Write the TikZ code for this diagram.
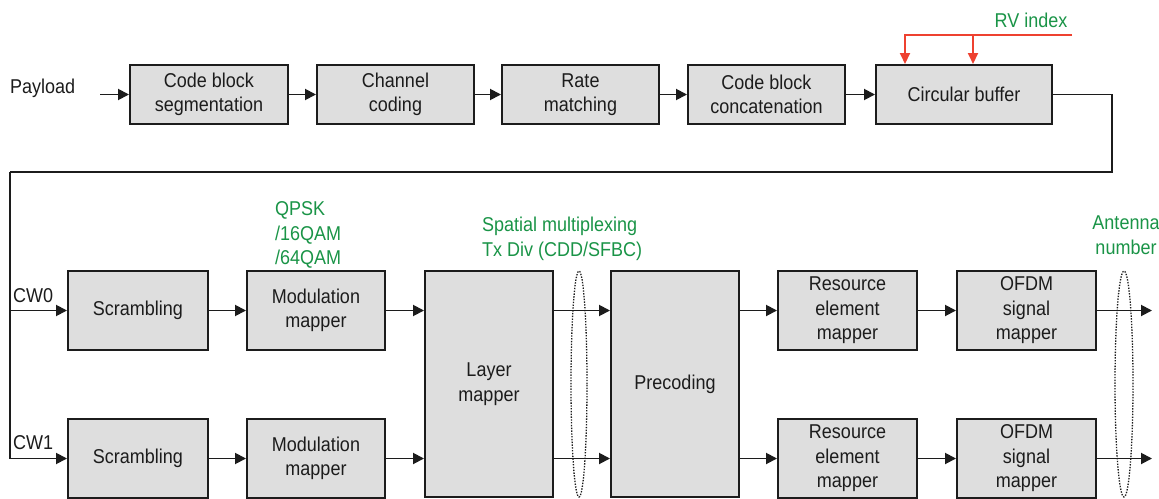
\documentclass[tikz,border=0pt]{standalone}
\usepackage{fontspec}
\setmainfont{Liberation Sans}[FakeStretch=0.9]
\usetikzlibrary{arrows.meta,positioning,shapes.geometric,calc}
\definecolor{boxgray}{HTML}{DEDEDE}
\definecolor{inkgray}{HTML}{1C1C1C}
\definecolor{labgreen}{HTML}{1A9447}
\definecolor{rvred}{HTML}{EE4130}
\tikzset{
  blk/.style={draw=inkgray, fill=boxgray, line width=2pt, align=center, inner sep=2pt,
              minimum height=59pt, text=inkgray},
  rowblk/.style={blk, minimum height=79pt},
  tallblk/.style={blk, minimum width=128pt, minimum height=226pt},
  txt/.style={inner sep=0pt, text=inkgray},
  lab/.style={inner sep=0pt, text=labgreen, align=left},
  grp/.style={ellipse, draw=inkgray, dash pattern=on 1.4pt off 1.4pt, line width=1.3pt,
              minimum height=226pt, inner sep=0pt},
  arr/.style={-{Triangle[length=11pt,width=11pt]}, line width=1.9pt, draw=inkgray},
  line/.style={line width=1.9pt, draw=inkgray},
  redarr/.style={-{Triangle[length=11pt,width=10pt]}, line width=1.9pt, draw=rvred},
}
\begin{document}
\begin{tikzpicture}[x=1pt, y=-1pt, font=\fontsize{20}{24.5}\selectfont]
    \useasboundingbox (0,0) rectangle (1159,498);
    \node[txt, anchor=west] (payload) at (10,88) {Payload};
    \node[blk, minimum width=158pt] (seg) at (209,94.5) {Code block\\segmentation};
    \node[blk, minimum width=157pt] (chcod) at (395.5,94.5) {Channel\\coding};
    \node[blk, minimum width=157pt] (ratem) at (580.5,94.5) {Rate\\matching};
    \node[blk, minimum width=157pt] (concat) at (766.5,94.5) {Code block\\concatenation};
    \node[blk, minimum width=176pt] (cbuf) at (964,94.5) {Circular buffer};
    \node[lab] (rvlab) at (1031,20) {RV index};
    \coordinate (pin) at (100,94.5);
    \coordinate (rv) at (1072,35);
    \coordinate (turn) at (1112,172);
    \coordinate (split) at (10,172);
    \draw[arr] (pin) -- (seg);
    \draw[arr] (seg) -- (chcod);
    \draw[arr] (chcod) -- (ratem);
    \draw[arr] (ratem) -- (concat);
    \draw[arr] (concat) -- (cbuf);
    \draw[redarr] (rv) -| ([xshift=-59pt]cbuf.north);
    \draw[redarr] ([xshift=9pt]cbuf.north |- rv) -- ([xshift=9pt]cbuf.north);
    \draw[line] (cbuf.east) -| (turn) -- (split);
    \node[txt, anchor=west] (cw0) at (13,296) {CW0};
    \node[txt, anchor=west] (cw1) at (13,443) {CW1};
    \node[lab, anchor=west] (modlab) at (275,235) {QPSK\\/16QAM\\/64QAM};
    \node[lab, anchor=west] (mimolab) at (482,239) {Spatial multiplexing\\Tx Div (CDD/SFBC)};
    \node[lab, align=center] (antlab) at (1126,235) {Antenna\\number};
    \node[rowblk, minimum width=140pt] (scr0) at (138,310.5) {Scrambling};
    \node[rowblk, minimum width=140pt] (scr1) at (138,458.5) {Scrambling};
    \node[rowblk, minimum width=138pt] (mod0) at (316,310.5) {Modulation\\mapper};
    \node[rowblk, minimum width=138pt] (mod1) at (316,458.5) {Modulation\\mapper};
    \node[tallblk] (layer) at (489,384) {Layer\\mapper};
    \node[tallblk] (prec) at (675,384) {Precoding};
    \node[rowblk, minimum width=139pt] (re0) at (847.5,310.5) {Resource\\element\\mapper};
    \node[rowblk, minimum width=139pt] (re1) at (847.5,458.5) {Resource\\element\\mapper};
    \node[rowblk, minimum width=139pt] (ofdm0) at (1026.5,310.5) {OFDM\\signal\\mapper};
    \node[rowblk, minimum width=139pt] (ofdm1) at (1026.5,458.5) {OFDM\\signal\\mapper};
    \node[grp, minimum width=16pt] (grp1) at (579,384) {};
    \node[grp, minimum width=18pt] (grp2) at (1124,384) {};
    \coordinate (out0) at (1152,310.5);
    \coordinate (out1) at (1152,458.5);
    \draw[arr] (split) |- (scr1);
    \draw[arr] (split |- scr0) -- (scr0);
    \draw[arr] (scr0) -- (mod0);
    \draw[arr] (scr1) -- (mod1);
    \draw[arr] (mod0) -- (mod0 -| layer.west);
    \draw[arr] (mod1) -- (mod1 -| layer.west);
    \draw[arr] (mod0 -| layer.east) -- (mod0 -| prec.west);
    \draw[arr] (mod1 -| layer.east) -- (mod1 -| prec.west);
    \draw[arr] (re0 -| prec.east) -- (re0);
    \draw[arr] (re1 -| prec.east) -- (re1);
    \draw[arr] (re0) -- (ofdm0);
    \draw[arr] (re1) -- (ofdm1);
    \draw[arr] (ofdm0) -- (out0);
    \draw[arr] (ofdm1) -- (out1);
\end{tikzpicture}
\end{document}
